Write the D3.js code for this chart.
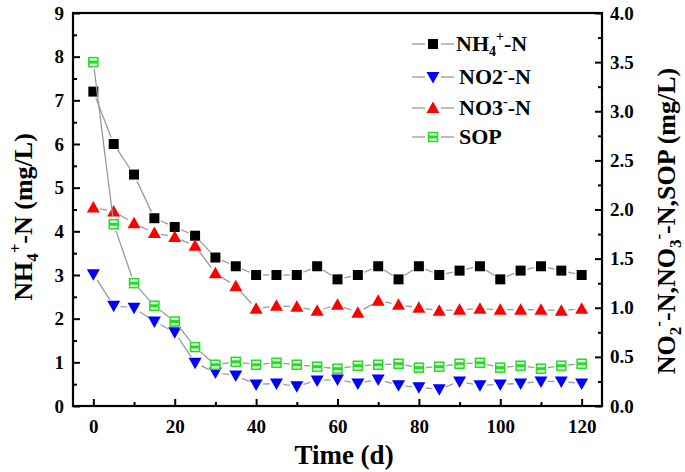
<!DOCTYPE html>
<html><head><meta charset="utf-8">
<script src="https://cdn.jsdelivr.net/npm/d3@7"></script>
<style>
html,body{margin:0;padding:0;background:#fff;}
svg{display:block;}
text{font-family:"Liberation Serif","Times New Roman",serif;font-weight:bold;fill:#000;}
</style></head>
<body>
<script>
const time = [0,5,10,15,20,25,30,35,40,45,50,55,60,65,70,75,80,85,90,95,100,105,110,115,120];
const nh4 = [7.2,6.0,5.3,4.3,4.1,3.9,3.4,3.2,3.0,3.0,3.0,3.2,2.9,3.0,3.2,2.9,3.2,3.0,3.1,3.2,2.9,3.1,3.2,3.1,3.0];
const no2 = [1.34,1.02,1.0,0.86,0.75,0.44,0.34,0.31,0.22,0.23,0.20,0.26,0.27,0.23,0.27,0.21,0.19,0.17,0.25,0.21,0.22,0.23,0.25,0.25,0.23];
const no3 = [2.02,1.98,1.86,1.76,1.72,1.63,1.35,1.22,0.99,1.02,1.01,0.97,1.03,0.95,1.07,1.03,1.0,0.97,0.98,0.99,0.98,0.98,0.98,0.97,0.99];
const sop = [3.50,1.85,1.25,1.02,0.86,0.60,0.42,0.45,0.42,0.44,0.42,0.40,0.38,0.41,0.42,0.43,0.39,0.40,0.43,0.44,0.39,0.41,0.38,0.41,0.43];
const xTicks = [0,20,40,60,80,100,120];
const yLeftTicks = [0,1,2,3,4,5,6,7,8,9];
const yRightTicks = [0,0.5,1,1.5,2,2.5,3,3.5,4];

const W = 685, H = 472;
const L = 73, R = 602, T = 13, B = 406;

const svg = d3.select("body").append("svg").attr("width", W).attr("height", H);

const x = d3.scaleLinear().domain([-5,125]).range([L,R]);
const yL = d3.scaleLinear().domain([0,9]).range([B,T]);
const yR = d3.scaleLinear().domain([0,4]).range([B,T]);

const fs = 19;
svg.append("g").attr("transform", `translate(0,${B})`)
  .call(d3.axisBottom(x).tickValues(xTicks).tickSize(-7).tickPadding(14).tickFormat(d3.format("d")));
svg.append("g").attr("transform", `translate(0,${B})`)
  .call(d3.axisBottom(x).tickValues([10,30,50,70,90,110]).tickSize(-4).tickFormat(""));

svg.append("g").attr("transform", `translate(${L},0)`)
  .call(d3.axisLeft(yL).tickValues(yLeftTicks).tickSize(-7).tickPadding(9).tickFormat(d3.format("d")));
svg.append("g").attr("transform", `translate(${L},0)`)
  .call(d3.axisLeft(yL).tickValues(d3.range(0.5,9,1)).tickSize(-4).tickFormat(""));

svg.append("g").attr("transform", `translate(${R},0)`)
  .call(d3.axisRight(yR).tickValues(yRightTicks).tickSize(-7).tickPadding(8).tickFormat(d3.format(".1f")));
svg.append("g").attr("transform", `translate(${R},0)`)
  .call(d3.axisRight(yR).tickValues(d3.range(0.25,4,0.5)).tickSize(-4).tickFormat(""));

svg.selectAll(".domain").remove();
svg.selectAll(".tick line").attr("stroke","#000").attr("stroke-width",2);
svg.selectAll(".tick text").style("font-size", fs+"px").style("font-family","'Liberation Serif',serif").style("font-weight","bold");

svg.append("rect").attr("x",L).attr("y",T).attr("width",R-L).attr("height",B-T)
  .attr("fill","none").attr("stroke","#000").attr("stroke-width",2.2);

const series = [
  {name:"nh4", vals:nh4, y:yL, shape:"square", fill:"#000", stroke:"#000"},
  {name:"no2", vals:no2, y:yR, shape:"down", fill:"#0000ff", stroke:"#0000ff"},
  {name:"no3", vals:no3, y:yR, shape:"up", fill:"#ff0000", stroke:"#ff0000"},
  {name:"sop", vals:sop, y:yR, shape:"sop", fill:"#c8ffc8", stroke:"#22dd22"}
];

function drawMarker(g, shape, cx, cy, s) {
  if (shape === "square") {
    g.append("rect").attr("x",cx-5).attr("y",cy-5).attr("width",10).attr("height",10).attr("fill",s.fill);
  } else if (shape === "up") {
    g.append("path").attr("d",`M${cx},${cy-6.5}L${cx+6.5},${cy+5}L${cx-6.5},${cy+5}Z`).attr("fill",s.fill);
  } else if (shape === "down") {
    g.append("path").attr("d",`M${cx},${cy+6.5}L${cx+6.5},${cy-5}L${cx-6.5},${cy-5}Z`).attr("fill",s.fill);
  } else if (shape === "sop") {
    g.append("rect").attr("x",cx-4.5).attr("y",cy-4.5).attr("width",9).attr("height",9)
      .attr("fill","#e6ffe6").attr("stroke",s.stroke).attr("stroke-width",1.5);
    g.append("rect").attr("x",cx-4.5).attr("y",cy-1.5).attr("width",9).attr("height",3).attr("fill",s.stroke);
  }
}

const gap = 7;
series.forEach(s => {
  const g = svg.append("g");
  const pts = time.map((t,i) => [x(t), s.y(s.vals[i])]);
  for (let i = 0; i < pts.length-1; i++) {
    const [x1,y1] = pts[i], [x2,y2] = pts[i+1];
    const dx = x2-x1, dy = y2-y1, len = Math.hypot(dx,dy);
    if (len <= 2*gap) continue;
    const ux = dx/len, uy = dy/len;
    g.append("line").attr("x1",x1+ux*gap).attr("y1",y1+uy*gap).attr("x2",x2-ux*gap).attr("y2",y2-uy*gap)
      .attr("stroke","#9a9a9a").attr("stroke-width",1.3);
  }
  pts.forEach(p => drawMarker(g, s.shape, p[0], p[1], s));
});

// legend
const legY = [44, 77, 108, 137];
const legLabels = [
  [["NH",""],["4","sub"],["+","sup"],["-N",""]],
  [["NO2",""],["-","sup"],["-N",""]],
  [["NO3",""],["-","sup"],["-N",""]],
  [["SOP",""]]
];
series.forEach((s,i) => {
  const g = svg.append("g");
  const cy = legY[i];
  g.append("line").attr("x1",412).attr("x2",425).attr("y1",cy).attr("y2",cy).attr("stroke","#9a9a9a").attr("stroke-width",1.3);
  g.append("line").attr("x1",441).attr("x2",454).attr("y1",cy).attr("y2",cy).attr("stroke","#9a9a9a").attr("stroke-width",1.3);
  drawMarker(g, s.shape, 433, cy, s);
  const t = g.append("text").attr("x", i===0 ? 456 : 459).attr("y", cy+7).style("font-size","22px");
  legLabels[i].forEach(([txt,k]) => {
    const ts = t.append("tspan").text(txt);
    if (k==="sub") ts.style("font-size","14px").attr("dy",5);
    if (k==="sup") ts.style("font-size","14px").attr("dy", i===0 ? -15 : -9);
    if (k==="" && txt==="-N") ts.attr("dy", i===0 ? 10 : 9);
  });
});

// axis titles
svg.append("text").attr("x",344).attr("y",464).attr("text-anchor","middle").style("font-size","27px").text("Time (d)");

const lt = svg.append("text").attr("transform","translate(32,217) rotate(-90)").attr("text-anchor","middle").style("font-size","26px");
lt.append("tspan").text("NH");
lt.append("tspan").text("4").style("font-size","17px").attr("dy",6);
lt.append("tspan").text("+").style("font-size","17px").attr("dy",-17);
lt.append("tspan").text("-N (mg/L)").attr("dy",11);

const rt = svg.append("text").attr("transform","translate(675,221) rotate(-90)").attr("text-anchor","middle").style("font-size","26px");
rt.append("tspan").text("NO");
rt.append("tspan").text("2").style("font-size","17px").attr("dy",6);
rt.append("tspan").text("-").style("font-size","17px").attr("dy",-17);
rt.append("tspan").text("-N,NO").attr("dy",11);
rt.append("tspan").text("3").style("font-size","17px").attr("dy",6);
rt.append("tspan").text("-").style("font-size","17px").attr("dy",-17);
rt.append("tspan").text("-N,SOP (mg/L)").attr("dy",11);
</script>
</body></html>
